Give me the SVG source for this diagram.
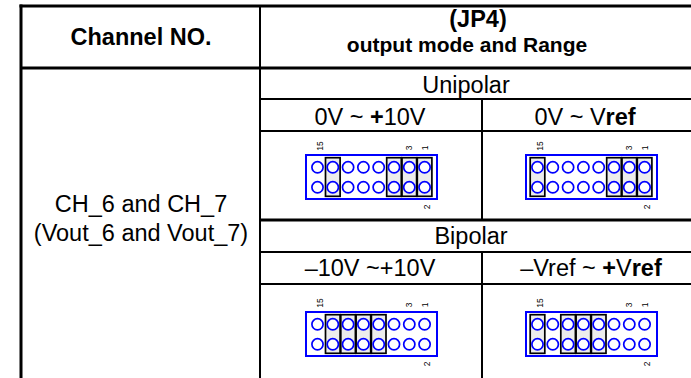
<svg xmlns="http://www.w3.org/2000/svg" width="691" height="378" viewBox="0 0 691 378">
<style>
.t{font-family:"Liberation Sans",Arial,sans-serif;font-size:23.5px;fill:#000;text-anchor:middle}
.b{font-weight:bold}
.h{font-size:21px}
.s{font-family:"Liberation Sans",Arial,sans-serif;font-size:8.5px;fill:#000;text-anchor:middle}
.ln{stroke:#000;stroke-width:2;fill:none}
.lt{stroke:#000;stroke-width:3;fill:none}
.frame{fill:#fff;stroke:#0000ff;stroke-width:2}
.pin{fill:#fff;stroke:#0000ff;stroke-width:1.7}
.jmp{fill:#ececec;stroke:#000;stroke-width:1.7}
</style>
<defs>
<g id="pins">
<rect class="frame" x="0" y="0" width="131" height="44"/>
</g>
<g id="circles">
<circle class="pin" cx="11.5" cy="12.3" r="5.6"/><circle class="pin" cx="26.8" cy="12.3" r="5.6"/><circle class="pin" cx="42.1" cy="12.3" r="5.6"/><circle class="pin" cx="57.4" cy="12.3" r="5.6"/><circle class="pin" cx="72.7" cy="12.3" r="5.6"/><circle class="pin" cx="88" cy="12.3" r="5.6"/><circle class="pin" cx="103.3" cy="12.3" r="5.6"/><circle class="pin" cx="118.6" cy="12.3" r="5.6"/>
<circle class="pin" cx="11.5" cy="32.3" r="5.6"/><circle class="pin" cx="26.8" cy="32.3" r="5.6"/><circle class="pin" cx="42.1" cy="32.3" r="5.6"/><circle class="pin" cx="57.4" cy="32.3" r="5.6"/><circle class="pin" cx="72.7" cy="32.3" r="5.6"/><circle class="pin" cx="88" cy="32.3" r="5.6"/><circle class="pin" cx="103.3" cy="32.3" r="5.6"/><circle class="pin" cx="118.6" cy="32.3" r="5.6"/>
</g>
<g id="labels">
<text class="s" transform="translate(16.5,-9) rotate(-90)">15</text>
<text class="s" transform="translate(105.5,-7) rotate(-90)">3</text>
<text class="s" transform="translate(121.5,-7) rotate(-90)">1</text>
<text class="s" transform="translate(123.5,52) rotate(-90)">2</text>
</g>
</defs>

<g id="table-lines">
<line class="lt" x1="19.5" y1="6" x2="691" y2="6"/>
<line class="lt" x1="21" y1="4.5" x2="21" y2="378"/>
<line class="ln" x1="260" y1="6" x2="260" y2="378"/>
<line class="lt" x1="21" y1="68" x2="691" y2="68"/>
<line class="ln" x1="260" y1="99" x2="691" y2="99"/>
<line class="ln" x1="260" y1="131" x2="691" y2="131"/>
<line class="lt" x1="260" y1="220" x2="691" y2="220"/>
<line class="ln" x1="260" y1="252" x2="691" y2="252"/>
<line class="ln" x1="260" y1="284" x2="691" y2="284"/>
<line class="ln" x1="482" y1="99" x2="482" y2="220"/>
<line class="ln" x1="482" y1="252" x2="482" y2="378"/>
</g>

<g id="header-channel"><text class="t b" x="141" y="45">Channel NO.</text></g>
<g id="header-jp4">
<text class="t b" x="478" y="27">(JP4)</text>
<text class="t b h" x="467" y="52">output mode and Range</text>
</g>
<g id="channel-cell">
<text class="t" x="141" y="212">CH_6 and CH_7</text>
<text class="t" x="141" y="241">(Vout_6 and Vout_7)</text>
</g>
<g id="unipolar-label"><text class="t" x="466" y="93">Unipolar</text></g>
<g id="range-uni-10"><text class="t" x="370" y="125">0V ~ <tspan class="b">+</tspan>10V</text></g>
<g id="range-uni-ref"><text class="t" x="585" y="125">0V ~ V<tspan class="b">ref</tspan></text></g>
<g id="bipolar-label"><text class="t" x="471" y="244">Bipolar</text></g>
<g id="range-bi-10"><text class="t" x="370" y="276">–10V ~+10V</text></g>
<g id="range-bi-ref"><text class="t" x="591" y="276">–Vref ~ <tspan class="b">+</tspan>V<tspan class="b">ref</tspan></text></g>

<g id="jumper-uni-10" transform="translate(306,155)">
<use href="#pins"/>
<rect class="jmp" x="19.5" y="2.7" width="14.6" height="38.6"/>
<rect class="jmp" x="80.7" y="2.7" width="14.6" height="38.6"/>
<rect class="jmp" x="96" y="2.7" width="14.6" height="38.6"/>
<rect class="jmp" x="111.3" y="2.7" width="14.6" height="38.6"/>
<use href="#circles"/><use href="#labels"/>
</g>
<g id="jumper-uni-ref" transform="translate(526,155)">
<use href="#pins"/>
<rect class="jmp" x="4.2" y="2.7" width="14.6" height="38.6"/>
<rect class="jmp" x="80.7" y="2.7" width="14.6" height="38.6"/>
<rect class="jmp" x="96" y="2.7" width="14.6" height="38.6"/>
<rect class="jmp" x="111.3" y="2.7" width="14.6" height="38.6"/>
<use href="#circles"/><use href="#labels"/>
</g>
<g id="jumper-bi-10" transform="translate(306,312)">
<use href="#pins"/>
<rect class="jmp" x="19.5" y="2.7" width="14.6" height="38.6"/>
<rect class="jmp" x="34.8" y="2.7" width="14.6" height="38.6"/>
<rect class="jmp" x="50.1" y="2.7" width="14.6" height="38.6"/>
<rect class="jmp" x="65.4" y="2.7" width="14.6" height="38.6"/>
<use href="#circles"/><use href="#labels"/>
</g>
<g id="jumper-bi-ref" transform="translate(526,312)">
<use href="#pins"/>
<rect class="jmp" x="4.2" y="2.7" width="14.6" height="38.6"/>
<rect class="jmp" x="34.8" y="2.7" width="14.6" height="38.6"/>
<rect class="jmp" x="50.1" y="2.7" width="14.6" height="38.6"/>
<rect class="jmp" x="65.4" y="2.7" width="14.6" height="38.6"/>
<use href="#circles"/><use href="#labels"/>
</g>
</svg>
